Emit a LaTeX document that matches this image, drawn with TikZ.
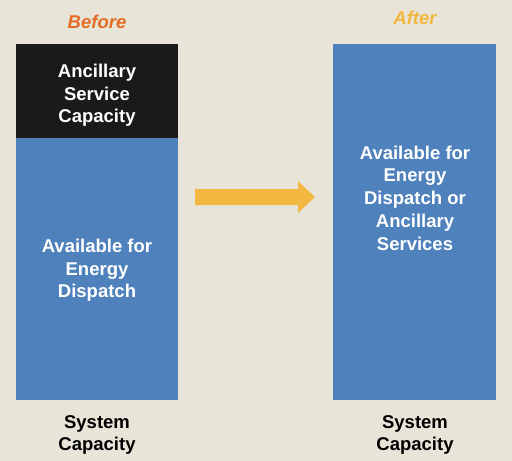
\documentclass[tikz,border=0pt]{standalone}
\usepackage{fontspec}
\setmainfont{Liberation Sans}
\usetikzlibrary{positioning, calc}
\definecolor{paperbg}{RGB}{232,229,216}
\definecolor{barblue}{RGB}{79,129,189}
\definecolor{barblack}{RGB}{26,26,26}
\definecolor{titleorange}{RGB}{228,108,36}
\definecolor{titleyellow}{RGB}{242,182,64}
\definecolor{arrowyellow}{RGB}{242,184,65}
\tikzset{
  bartext/.style={text=white, font=\fontsize{18.5}{22.7}\selectfont\bfseries, align=center},
  labeltext/.style={text=black, font=\fontsize{18.5}{22.7}\selectfont\bfseries, align=center},
  titletext/.style={font=\fontsize{18.5}{22.7}\selectfont\bfseries\itshape}
}

\begin{document}
\begin{tikzpicture}[x=1pt, y=-1pt]
    % Background
    \fill[paperbg] (0,0) rectangle (512,461);
    \useasboundingbox (0,0) rectangle (512,461);

    % Before column
    \fill[barblack] (16,44) rectangle (178,138);
    \fill[barblue] (16,138) rectangle (178,400);
    \node[titletext, text=titleorange] (before) at (97,22) {Before};
    \node[bartext] (ancillary) at (97,95.5) {Ancillary\\Service\\Capacity};
    \node[bartext] (energy) at (97,270.5) {Available for\\Energy\\Dispatch};
    \node[labeltext] (sysleft) at (97,435) {System\\Capacity};

    % After column
    \fill[barblue] (333,44) rectangle (496,400);
    \node[titletext, text=titleyellow] (after) at (415,18) {After};
    \node[bartext] (shared) at (415,198) {Available for\\Energy\\Dispatch or\\Ancillary\\Services};
    \node[labeltext] (sysright) at (415,435) {System\\Capacity};

    % Block arrow
    \coordinate (tail) at (195,197);
    \coordinate (tip) at (315,197);
    \fill[arrowyellow] ($(tail)+(0,-8)$) -- ++(103,0) -- ++(0,-8) -- (tip)
        -- ++(-17,16) -- ++(0,-8) -- ($(tail)+(0,8)$) -- cycle;
\end{tikzpicture}
\end{document}
